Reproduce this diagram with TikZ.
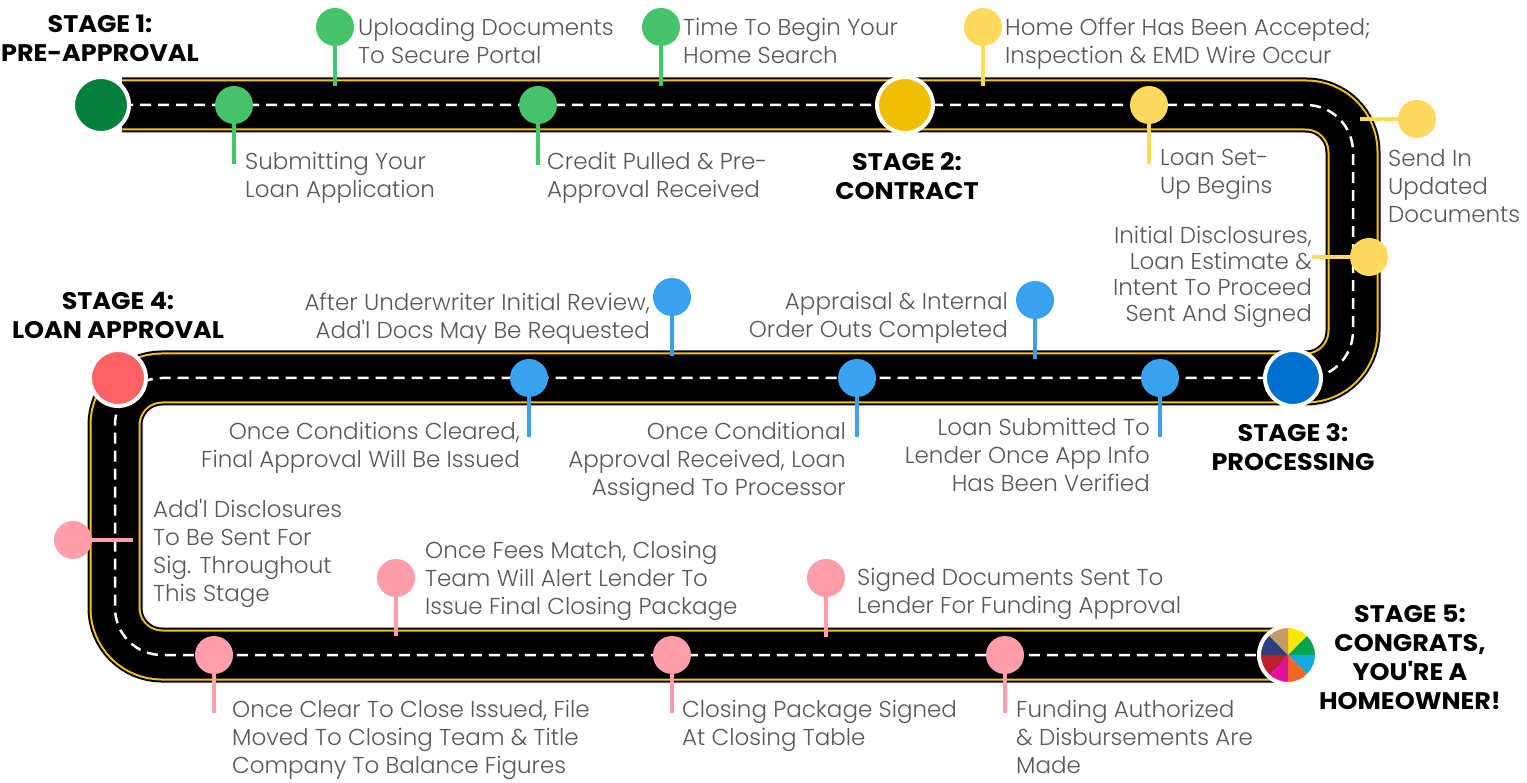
\documentclass[tikz,border=0pt]{standalone}
\usepackage{fontspec}
\setmainfont{Poppins}
\newfontfamily\bodyfont{Poppins}[UprightFont=* Light]
\newfontfamily\stagefont{Poppins}[UprightFont=* Bold,FakeStretch=1.06]
\begin{document}
\definecolor{roadyellow}{RGB}{246,196,20}
\definecolor{txtgray}{RGB}{88,88,88}
\definecolor{stageone}{RGB}{0,128,58}
\definecolor{pingreen}{RGB}{69,196,106}
\definecolor{stagetwo}{RGB}{242,190,0}
\definecolor{pinyellow}{RGB}{255,217,92}
\definecolor{stagethree}{RGB}{0,112,204}
\definecolor{pinblue}{RGB}{56,162,240}
\definecolor{stagefour}{RGB}{255,98,98}
\definecolor{pinpink}{RGB}{255,157,171}
\definecolor{pieyellow}{RGB}{247,230,0}
\definecolor{piegreen}{RGB}{0,166,81}
\definecolor{piecyan}{RGB}{23,169,225}
\definecolor{pieorange}{RGB}{242,101,34}
\definecolor{piemagenta}{RGB}{224,17,154}
\definecolor{piecrimson}{RGB}{190,30,45}
\definecolor{pienavy}{RGB}{43,63,126}
\definecolor{pietan}{RGB}{196,154,108}
\tikzset{
  pinhead/.style={circle,minimum size=38pt,inner sep=0pt},
  stem/.style={line width=3.5pt},
  stagedot/.style={circle,minimum size=56pt,inner sep=0pt,draw=white,line width=4pt},
  txt/.style={font=\bodyfont\fontsize{23}{28}\selectfont,text=txtgray,inner sep=0pt},
  stagetxt/.style={font=\stagefont\fontsize{24}{29}\selectfont,text=black,inner sep=0pt,align=center,anchor=north},
  roadbase/.style={line width=55pt,black,rounded corners=47pt},
  roadedge/.style={line width=51pt,roadyellow,rounded corners=47pt},
  roadtop/.style={line width=47pt,black,rounded corners=47pt},
  roadmark/.style={line width=2.5pt,white,dash pattern=on 11pt off 7pt,rounded corners=47pt}
}
% pin: name, head position, stem tip, colour
\newcommand\pinmark[4]{%
  \coordinate (#1t) at (#3);
  \node[pinhead,fill=#4] (#1) at (#2) {};
  \draw[stem,#4] (#1) -- (#1t);}
% left-aligned label: name, x, first baseline, text
\newcommand\labL[4]{\node[txt,align=left,anchor=north west] (#1) at (#2,{19.6-#3}) {\strut #4};}
% right-aligned label: name, right x, first baseline, text
\newcommand\labR[4]{\node[txt,align=right,anchor=north east] (#1) at (#2,{19.6-#3}) {\strut #4};}
% stage title: name, centre x, first baseline, text
\newcommand\stagelab[4]{\node[stagetxt] (#1) at (#2,{20.3-#3}) {\strut #4};}
\newcommand\roadroute{(122,-105) -- (1353,-105) -- (1353,-378) -- (115,-378) -- (115,-655) -- (1280,-655)}
\begin{tikzpicture}[x=1pt,y=1pt]
\useasboundingbox (0,0) rectangle (1527,-783);
\fill[white] (0,0) rectangle (1527,-783);

% the road
\draw[roadbase] \roadroute;
\draw[roadedge] \roadroute;
\draw[roadtop] \roadroute;
\draw[roadmark] \roadroute;

% stage 1
\node[stagedot,fill=stageone] (s1) at (101,-105) {};
\stagelab{s1t}{100}{32}{STAGE 1:\\PRE-APPROVAL}
\pinmark{p1}{234,-105}{234,-164}{pingreen}
\labL{l1}{245}{169}{Submitting Your\\Loan Application}
\pinmark{p2}{335,-27}{335,-86}{pingreen}
\labL{l2}{358}{35}{Uploading Documents\\To Secure Portal}
\pinmark{p3}{538,-105}{538,-165}{pingreen}
\labL{l3}{547}{169}{Credit Pulled \& Pre-\\Approval Received}
\pinmark{p4}{661,-27}{661,-86}{pingreen}
\labL{l4}{683}{35}{Time To Begin Your\\Home Search}

% stage 2
\node[stagedot,fill=stagetwo] (s2) at (905,-105) {};
\stagelab{s2t}{907}{170}{STAGE 2:\\CONTRACT}
\pinmark{p5}{983,-27}{983,-86}{pinyellow}
\labL{l5}{1005}{35}{Home Offer Has Been Accepted;\\Inspection \& EMD Wire Occur}
\pinmark{p6}{1149,-105}{1149,-164}{pinyellow}
\labL{l6}{1160}{165}{Loan Set-\\Up Begins}
\pinmark{p7}{1417,-119}{1360,-119}{pinyellow}
\labL{l7}{1388}{166}{Send In\\Updated\\Documents}
\pinmark{p8}{1369,-257}{1312,-257}{pinyellow}
\node[txt,font=\bodyfont\fontsize{23}{26}\selectfont,align=right,anchor=north east] (l8) at (1312,{18.2-243}) {\strut Initial Disclosures,\\Loan Estimate \&\\Intent To Proceed\\Sent And Signed};

% stage 3
\node[stagedot,fill=stagethree] (s3) at (1293,-378) {};
\stagelab{s3t}{1293}{441}{STAGE 3:\\PROCESSING}
\pinmark{p13}{1160,-378}{1160,-437}{pinblue}
\labR{l13}{1150}{435}{Loan Submitted To\\Lender Once App Info\\Has Been Verified}
\pinmark{p10}{1035,-300}{1035,-359}{pinblue}
\labR{l10}{1008}{309}{Appraisal \& Internal\\Order Outs Completed}
\pinmark{p12}{857,-378}{857,-437}{pinblue}
\labR{l12}{846}{439}{Once Conditional\\Approval Received, Loan\\Assigned To Processor}
\pinmark{p9}{672,-297}{672,-356}{pinblue}
\labR{l9}{650}{310}{After Underwriter Initial Review,\\Add\textquotesingle l Docs May Be Requested}
\pinmark{p11}{529,-378}{529,-437}{pinblue}
\labR{l11}{520}{439}{Once Conditions Cleared,\\Final Approval Will Be Issued}

% stage 4
\node[stagedot,fill=stagefour] (s4) at (118,-378) {};
\stagelab{s4t}{118}{309}{STAGE 4:\\LOAN APPROVAL}
\pinmark{p14}{73,-540}{133,-540}{pinpink}
\labL{l14}{153}{517}{Add\textquotesingle l Disclosures\\To Be Sent For\\Sig. Throughout\\This Stage}
\pinmark{p15}{214,-655}{214,-713}{pinpink}
\labL{l15}{232}{717}{Once Clear To Close Issued, File\\Moved To Closing Team \& Title\\Company To Balance Figures}
\pinmark{p16}{396,-578}{396,-636}{pinpink}
\labL{l16}{425}{558}{Once Fees Match, Closing\\Team Will Alert Lender To\\Issue Final Closing Package}
\pinmark{p17}{672,-655}{672,-713}{pinpink}
\labL{l17}{682}{717}{Closing Package Signed\\At Closing Table}
\pinmark{p18}{826,-578}{826,-637}{pinpink}
\labL{l18}{857}{585}{Signed Documents Sent To\\Lender For Funding Approval}
\pinmark{p19}{1005,-655}{1005,-713}{pinpink}
\labL{l19}{1016}{717}{Funding Authorized\\\& Disbursements Are\\Made}

% stage 5: colour wheel
\coordinate (c5) at (1288,-655);
\foreach \a/\c in {45/pieyellow,0/piegreen,-45/piecyan,-90/pieorange,-135/piemagenta,-180/piecrimson,135/pienavy,90/pietan}
  \fill[\c] (c5) -- ++(\a:28) arc[start angle=\a,end angle=\a+45,radius=28] -- cycle;
\node[circle,minimum size=58pt,inner sep=0pt,draw=white,line width=4pt] (s5) at (c5) {};
\stagelab{s5t}{1410}{622}{STAGE 5:\\CONGRATS,\\YOU\textquotesingle RE A\\HOMEOWNER!}
\end{tikzpicture}
\end{document}
